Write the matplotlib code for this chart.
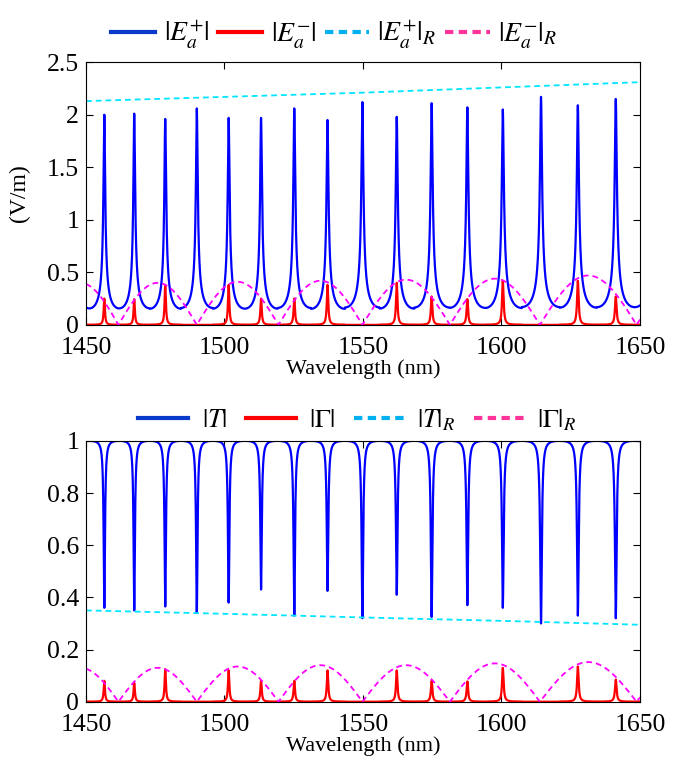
import numpy as np
import matplotlib
matplotlib.use("Agg")
import matplotlib.pyplot as plt
from matplotlib.lines import Line2D

plt.rcParams['font.family'] = ['Liberation Serif', 'DejaVu Serif']
plt.rcParams['mathtext.fontset'] = 'stix'

# resonance positions (nm)
peak_wl = [1456.6, 1467.4, 1478.6, 1490.0, 1501.5, 1513.2, 1525.2, 1537.2,
           1549.8, 1562.2, 1574.8, 1587.7, 1600.5, 1614.3, 1627.6, 1641.3]
# top panel
ep_peak = [2.00, 2.01, 1.96, 2.06, 1.97, 1.97, 2.06, 1.95,
           2.12, 1.98, 2.11, 2.07, 2.05, 2.17, 2.09, 2.15]
ep_base = 0.16
em_peak = [0.25, 0.245, 0.38, 0.0, 0.38, 0.25, 0.25, 0.38,
           0.0, 0.40, 0.27, 0.245, 0.42, 0.0, 0.42, 0.27]
ep_R_wl = [1450, 1500, 1550, 1600, 1650]
ep_R = [2.13, 2.17, 2.21, 2.26, 2.31]
# reference envelope: zeros and arch heights
envelope_zeros = [1434.2, 1461.7, 1490.0, 1519.5, 1549.8, 1581.4, 1613.9, 1648.8, 1685.0]
em_R_arch = [0.40, 0.40, 0.41, 0.42, 0.43, 0.44, 0.47, 0.48]
# bottom panel
T_min = [0.36, 0.35, 0.365, 0.34, 0.38, 0.43, 0.33, 0.425,
         0.32, 0.41, 0.325, 0.37, 0.36, 0.30, 0.33, 0.32]
G_peak = [0.08, 0.073, 0.125, 0.0, 0.12, 0.08, 0.08, 0.12,
          0.0, 0.12, 0.08, 0.078, 0.13, 0.0, 0.135, 0.085]
T_R_wl = [1450, 1500, 1550, 1600, 1650]
T_R = [0.35, 0.337, 0.323, 0.31, 0.295]
G_R_arch = [0.13, 0.13, 0.135, 0.14, 0.14, 0.147, 0.152, 0.155]

wl = np.linspace(1450, 1650, 6001)


def airy_shape(wl, centers, ratio):
    # normalised Airy-type profile: 1 at each resonance, 1/ratio halfway between
    c = np.array(centers)
    gaps = np.diff(c)
    left_gap = np.concatenate([[gaps[0]], gaps])
    right_gap = np.concatenate([gaps, [gaps[-1]]])
    idx = np.abs(wl[:, None] - c[None, :]).argmin(axis=1)
    d = wl - c[idx]
    gap = np.where(d < 0, left_gap[idx], right_gap[idx])
    F = ratio ** 2 - 1
    return 1.0 / np.sqrt(1 + F * np.sin(np.pi * d / gap) ** 2), idx


def arches(wl, zeros, heights):
    z = np.array(zeros)
    k = np.searchsorted(z, wl, side='right') - 1
    z0, z1 = z[k], z[k + 1]
    return np.array(heights)[k] * np.abs(np.sin(np.pi * (wl - z0) / (z1 - z0)))


shape, idx = airy_shape(wl, peak_wl, np.mean(ep_peak) / ep_base)
ep = np.array(ep_peak)[idx] * shape
em = np.array(em_peak)[idx] * shape ** 2
em_R = arches(wl, envelope_zeros, em_R_arch)

dip = shape ** 1.8
b = dip.min()
dip = (dip - b) / (1 - b)
T = 1 - (1 - np.array(T_min)[idx]) * dip
G = np.array(G_peak)[idx] * shape ** 2
G_R = arches(wl, envelope_zeros, G_R_arch)

blue, red, cyan, mag = '#0000ff', '#ff0000', '#00e5ff', '#ff00ff'
blue_l, cyan_l, mag_l = '#0a3acc', '#00b0f0', '#ff3399'
dash = (0, (3.2, 2.2))

fig = plt.figure(figsize=(6.91, 7.68), dpi=100)
ax1 = fig.add_axes([0.1245, 0.577, 0.8015, 0.342])
ax2 = fig.add_axes([0.1245, 0.0863, 0.8015, 0.3397])

ax1.plot(wl, ep, color=blue, lw=1.6)
ax1.plot(wl, em, color=red, lw=1.6)
ax1.plot(ep_R_wl, ep_R, color=cyan, lw=1.3, linestyle=dash)
ax1.plot(wl, em_R, color=mag, lw=1.3, linestyle=dash)
ax1.set_ylim(0, 2.5)
ax1.set_yticks([0, 0.5, 1, 1.5, 2, 2.5])
ax1.set_yticklabels(['0', '0.5', '1', '1.5', '2', '2.5'])
ax1.set_ylabel('(V/m)', fontsize=17, labelpad=12)

ax2.plot(wl, T, color=blue, lw=1.6)
ax2.plot(wl, G, color=red, lw=1.6)
ax2.plot(T_R_wl, T_R, color=cyan, lw=1.3, linestyle=dash)
ax2.plot(wl, G_R, color=mag, lw=1.3, linestyle=dash)
ax2.set_ylim(0, 1)
ax2.set_yticks([0, 0.2, 0.4, 0.6, 0.8, 1])
ax2.set_yticklabels(['0', '0.2', '0.4', '0.6', '0.8', '1'])

for ax in (ax1, ax2):
    ax.set_xlim(1450, 1650)
    ax.set_xticks([1450, 1500, 1550, 1600, 1650])
    ax.set_xlabel('Wavelength (nm)', fontsize=16, labelpad=0)
    ax.tick_params(direction='in', top=True, right=True, labelsize=18.5, length=5)
    ax.tick_params(axis='x', pad=9)
    ax.tick_params(axis='y', pad=5)

top_labels = [r'$|E_a^{+}|$', r'$|E_a^{-}|$', r'$|E_a^{+}|_R$', r'$|E_a^{-}|_R$']
bot_labels = [r'$|T|$', r'$|\Gamma|$', r'$|T|_R$', r'$|\Gamma|_R$']


def handles():
    return [Line2D([], [], color=blue_l, lw=3),
            Line2D([], [], color=red, lw=3),
            Line2D([], [], color=cyan_l, lw=3, linestyle=(0, (2, 1.3))),
            Line2D([], [], color=mag_l, lw=3, linestyle=(0, (2, 1.3)))]


ax1.legend(handles(), top_labels, loc='lower center', bbox_to_anchor=(0.448, 1.0),
           ncol=4, frameon=False, fontsize=20, handlelength=1.6,
           handletextpad=0.3, columnspacing=0.3, borderaxespad=0)
ax2.legend(handles(), bot_labels, loc='lower center', bbox_to_anchor=(0.49, 0.99),
           ncol=4, frameon=False, fontsize=19, handlelength=1.9,
           handletextpad=0.5, columnspacing=0.7, borderaxespad=0)

fig.savefig('out.png', dpi=100)
